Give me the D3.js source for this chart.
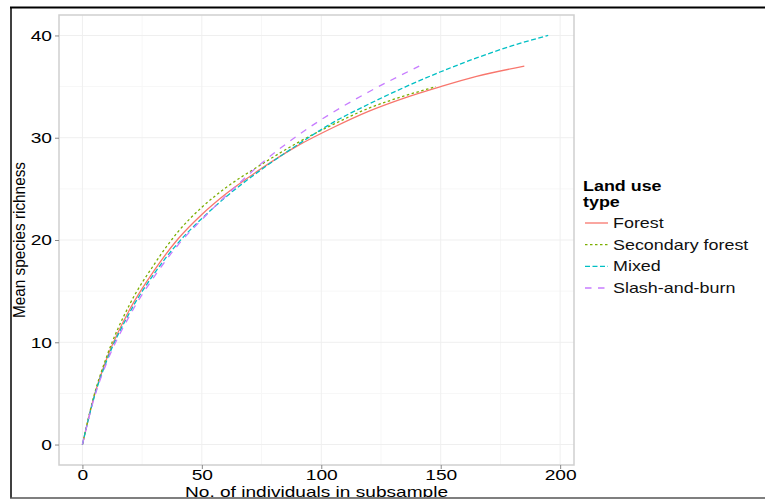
<!DOCTYPE html>
<html>
<head>
<meta charset="utf-8">
<script src="https://cdn.jsdelivr.net/npm/d3@7"></script>
<style>
  body { margin: 0; background: #fff; }
  text { font-family: "Liberation Sans", Arial, sans-serif; }
</style>
</head>
<body>
<div id="graph"></div>
<script>
var width = 765;
var height = 499;

// land use types, legend order
var landUse = ["Forest", "Secondary forest", "Mixed", "Slash-and-burn"];
var lineColors = ["#F8766D", "#7CAE00", "#00BFC4", "#C77CFF"];

// rarefaction curves: subsample size -> mean richness
var forestN    = [0, 5, 10, 20, 30, 40, 50, 60, 75, 90, 105, 120, 135, 150, 165, 185];
var forestS    = [0, 4.8, 8.3, 13.3, 17.0, 20.1, 22.5, 24.5, 27.0, 29.2, 31.0, 32.6, 33.9, 35.0, 36.0, 37.0];
var secondaryN = [0, 5, 10, 20, 30, 40, 50, 60, 75, 90, 105, 120, 135, 148];
var secondaryS = [0, 4.9, 8.5, 13.8, 17.6, 20.8, 23.2, 25.1, 27.4, 29.5, 31.3, 32.9, 34.1, 35.0];
var mixedN     = [0, 5, 10, 20, 30, 40, 50, 60, 75, 90, 105, 120, 135, 150, 165, 180, 195];
var mixedS     = [0, 4.7, 8.1, 13.0, 16.7, 19.7, 22.1, 24.2, 26.9, 29.3, 31.5, 33.3, 34.95, 36.45, 37.8, 39.0, 40.0];
var slashN     = [0, 5, 10, 20, 30, 40, 50, 60, 75, 90, 105, 120, 141];
var slashS     = [0, 4.6, 7.9, 12.7, 16.4, 19.5, 22.0, 24.3, 27.5, 30.2, 32.5, 34.5, 37.0];

var xTicks = [0, 50, 100, 150, 200];
var xMinor = [25, 75, 125, 175];
var yTicks = [0, 10, 20, 30, 40];
var yMinor = [5, 15, 25, 35];

var panel = { left: 59, right: 574, top: 15, bottom: 465 };
var stretch = 1.28; // the picture's text is wider than tall

var dashes = [null, "2.5,2.5", "5,2.5", "6.5,6.5"];

function zip(ns, ss) {
  return ns.map(function (n, i) { return { n: n, s: ss[i] }; });
}

var series = [zip(forestN, forestS), zip(secondaryN, secondaryS),
              zip(mixedN, mixedS), zip(slashN, slashS)];

var svg = d3.select("#graph").append("svg")
  .attr("width", width)
  .attr("height", height);

var xScale = d3.scaleLinear().domain([-9.8, 205.8]).range([panel.left, panel.right]);
var yScale = d3.scaleLinear().domain([-2, 42]).range([panel.bottom, panel.top]);

// grid lines
var grid = svg.append("g");
grid.selectAll(".xminor").data(xMinor).enter().append("line")
  .attr("x1", function (d) { return xScale(d); }).attr("x2", function (d) { return xScale(d); })
  .attr("y1", panel.top).attr("y2", panel.bottom)
  .attr("stroke", "#f7f7f7").attr("stroke-width", 1);
grid.selectAll(".yminor").data(yMinor).enter().append("line")
  .attr("y1", function (d) { return yScale(d); }).attr("y2", function (d) { return yScale(d); })
  .attr("x1", panel.left).attr("x2", panel.right)
  .attr("stroke", "#f7f7f7").attr("stroke-width", 1);
grid.selectAll(".xmajor").data(xTicks).enter().append("line")
  .attr("x1", function (d) { return xScale(d); }).attr("x2", function (d) { return xScale(d); })
  .attr("y1", panel.top).attr("y2", panel.bottom)
  .attr("stroke", "#efefef").attr("stroke-width", 1);
grid.selectAll(".ymajor").data(yTicks).enter().append("line")
  .attr("y1", function (d) { return yScale(d); }).attr("y2", function (d) { return yScale(d); })
  .attr("x1", panel.left).attr("x2", panel.right)
  .attr("stroke", "#efefef").attr("stroke-width", 1);

// curves
var line = d3.line()
  .x(function (d) { return xScale(d.n); })
  .y(function (d) { return yScale(d.s); })
  .curve(d3.curveMonotoneX);

svg.append("g").selectAll("path").data(series).enter().append("path")
  .attr("d", line)
  .attr("fill", "none")
  .attr("stroke", function (d, i) { return lineColors[i]; })
  .attr("stroke-width", 1.3)
  .attr("stroke-dasharray", function (d, i) { return dashes[i]; });

// panel border
svg.append("rect")
  .attr("x", panel.left).attr("y", panel.top)
  .attr("width", panel.right - panel.left).attr("height", panel.bottom - panel.top)
  .attr("fill", "none").attr("stroke", "#cfcfcf").attr("stroke-width", 1.5);

// axes
var xAxis = svg.append("g")
  .attr("transform", "translate(0," + panel.bottom + ")")
  .call(d3.axisBottom(xScale).tickValues(xTicks).tickSize(4).tickPadding(3));
var yAxis = svg.append("g")
  .attr("transform", "translate(" + panel.left + ",0)")
  .call(d3.axisLeft(yScale).tickValues(yTicks).tickSize(4).tickPadding(3));

[xAxis, yAxis].forEach(function (ax) {
  ax.select(".domain").remove();
  ax.selectAll(".tick line").attr("stroke", "#888");
  ax.selectAll(".tick text")
    .attr("fill", "#000")
    .style("font-size", "15px")
    .style("font-family", "Liberation Sans, Arial, sans-serif");
});
xAxis.selectAll(".tick text").attr("transform", "scale(" + stretch + ",1)")
  .attr("dy", "8px");
yAxis.selectAll(".tick text")
  .attr("transform", "scale(" + stretch + ",1)")
  .attr("x", -7 / stretch);

// axis titles
svg.append("text")
  .attr("transform", "translate(25," + ((panel.top + panel.bottom) / 2) + ") rotate(-90)")
  .attr("text-anchor", "middle")
  .attr("textLength", 156)
  .attr("lengthAdjust", "spacingAndGlyphs")
  .style("font-size", "16px")
  .attr("fill", "#000")
  .text("Mean species richness");

svg.append("text")
  .attr("x", (panel.left + panel.right) / 2)
  .attr("y", 497)
  .attr("text-anchor", "middle")
  .attr("textLength", 263)
  .attr("lengthAdjust", "spacingAndGlyphs")
  .style("font-size", "15px")
  .attr("fill", "#000")
  .text("No. of individuals in subsample");

// legend
var legend = svg.append("g").attr("transform", "translate(583,0)");
legend.append("text")
  .attr("transform", "translate(0,191) scale(" + stretch + ",1)")
  .style("font-size", "14px").style("font-weight", "bold")
  .text("Land use");
legend.append("text")
  .attr("transform", "translate(0,207) scale(" + stretch + ",1)")
  .style("font-size", "14px").style("font-weight", "bold")
  .text("type");

var keyY = d3.scalePoint().domain(landUse).range([223, 288]);
var keys = legend.selectAll(".key").data(landUse).enter().append("g")
  .attr("transform", function (d) { return "translate(0," + keyY(d) + ")"; });
keys.append("line")
  .attr("x1", 2).attr("x2", 25)
  .attr("stroke", function (d, i) { return lineColors[i]; })
  .attr("stroke-width", 1.3)
  .attr("stroke-dasharray", function (d, i) { return dashes[i]; });
keys.append("text")
  .attr("transform", "translate(30,5) scale(" + stretch + ",1)")
  .style("font-size", "14px")
  .attr("fill", "#111")
  .text(function (d) { return d; });

// outer frame of the figure
svg.append("rect").attr("x", 0).attr("y", 497).attr("width", width).attr("height", 2).attr("fill", "#fff");
svg.append("line").attr("x1", 10).attr("x2", width).attr("y1", 7.5).attr("y2", 7.5)
  .attr("stroke", "#000").attr("stroke-width", 2);
svg.append("line").attr("x1", 11).attr("x2", 11).attr("y1", 7).attr("y2", 498)
  .attr("stroke", "#000").attr("stroke-width", 1.5);
svg.append("line").attr("x1", 10).attr("x2", width).attr("y1", 498).attr("y2", 498)
  .attr("stroke", "#555").attr("stroke-width", 1.5);
</script>
</body>
</html>
